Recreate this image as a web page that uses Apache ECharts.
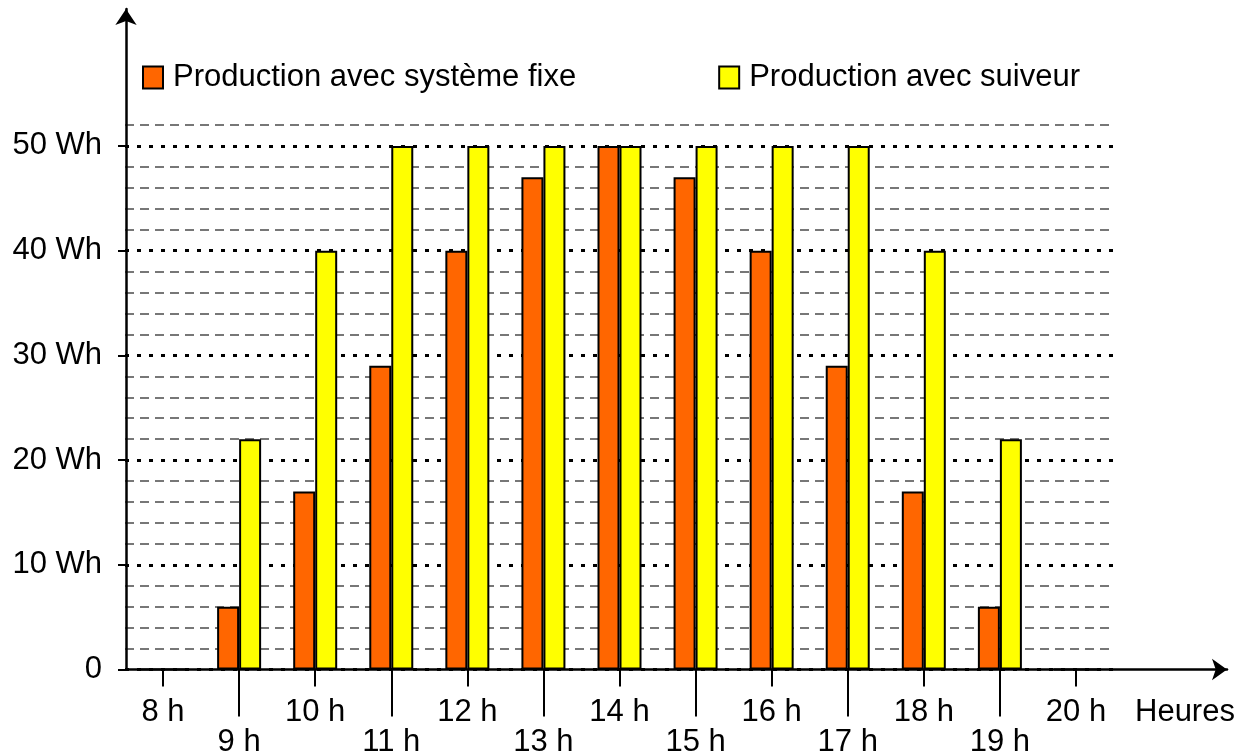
<!DOCTYPE html>
<html>
<head>
<meta charset="utf-8">
<script src="https://cdn.jsdelivr.net/npm/echarts@6/dist/echarts.min.js"></script>
<style>
  html, body { margin: 0; padding: 0; background: #fff; }
  #chart { width: 1248px; height: 756px; }
</style>
</head>
<body>
<div id="chart"></div>
<script>
// heures de la journee
var hours = ['8 h', '9 h', '10 h', '11 h', '12 h', '13 h', '14 h', '15 h', '16 h', '17 h', '18 h', '19 h', '20 h'];
// production en Wh
var prodFixe = [0, 6, 17, 29, 40, 47, 50, 47, 40, 29, 17, 6, 0];
var prodSuiveur = [0, 22, 40, 50, 50, 50, 50, 50, 50, 50, 40, 22, 0];
var majorTicks = [0, 10, 20, 30, 40, 50];
var yMax = 52;

var FONT = "'Liberation Sans', Arial, sans-serif";
var FS = 31;
var chart = echarts.init(document.getElementById('chart'));

var isEven = function (i) { return i % 2 === 0; };
var isOdd = function (i) { return i % 2 === 1; };

var option = {
  animation: false,
  backgroundColor: '#fff',
  textStyle: { fontFamily: FONT },
  legend: {
    left: 142,
    top: 62,
    padding: 0,
    itemWidth: 20,
    itemHeight: 22,
    itemGap: 142,
    icon: 'rect',
    itemStyle: { borderColor: '#000', borderWidth: 2 },
    textStyle: { fontSize: FS, color: '#000', fontFamily: FONT, padding: [0, 0, 0, 5] },
    data: ['Production avec système fixe', 'Production avec suiveur']
  },
  grid: [
    { left: 125, right: 134, top: 125, bottom: 86.5, outerBoundsMode: 'none' },
    { left: 126, right: 21, top: 9, bottom: 86.5, outerBoundsMode: 'none' }
  ],
  xAxis: [
    {
      type: 'category', gridIndex: 0, position: 'bottom', data: hours,
      axisLine: { show: false },
      axisTick: { show: true, alignWithLabel: true, length: 17, interval: isEven,
        lineStyle: { color: '#000', width: 2 } },
      axisLabel: { interval: isEven, margin: 27, fontSize: FS, color: '#000', fontFamily: FONT },
      splitLine: { show: false }
    },
    {
      type: 'category', gridIndex: 0, position: 'bottom', data: hours,
      axisLine: { show: false },
      axisTick: { show: true, alignWithLabel: true, length: 47, interval: isOdd,
        lineStyle: { color: '#000', width: 2 } },
      axisLabel: { interval: isOdd, margin: 57, fontSize: FS, color: '#000', fontFamily: FONT },
      splitLine: { show: false }
    },
    {
      type: 'value', gridIndex: 1, position: 'bottom', min: 0, max: 1,
      name: 'Heures', nameLocation: 'end', nameGap: -92,
      nameTextStyle: { fontSize: FS, color: '#000', fontFamily: FONT, align: 'left',
        verticalAlign: 'top', padding: [27, 0, 0, 0] },
      axisLine: { show: true, symbol: ['none', 'arrow'], symbolSize: [16, 15],
        lineStyle: { color: '#000', width: 2.5 } },
      axisTick: { show: false }, axisLabel: { show: false }, splitLine: { show: false }
    }
  ],
  yAxis: [
    {
      type: 'value', gridIndex: 0, position: 'left', min: 0, max: yMax, interval: 2,
      axisLine: { show: false }, axisTick: { show: false }, axisLabel: { show: false },
      splitLine: { show: true, lineStyle: {
        color: ['rgba(0,0,0,0)', '#777', '#777', '#777', '#777'],
        type: [9, 6], width: 2 } }
    },
    {
      type: 'value', gridIndex: 0, position: 'left', min: 0, max: yMax, interval: 10,
      axisLine: { show: false },
      axisTick: { show: true, length: 7, customValues: majorTicks, lineStyle: { color: '#000', width: 2 } },
      axisLabel: { margin: 23, fontSize: FS, color: '#000', fontFamily: FONT, customValues: majorTicks,
        formatter: function (v) { return v === 0 ? '0' : v + ' Wh'; } },
      splitLine: { show: true, lineStyle: { color: '#000', type: [4, 8], width: 3 } }
    },
    {
      type: 'value', gridIndex: 1, position: 'left', min: 0, max: 1,
      axisLine: { show: true, symbol: ['none', 'arrow'], symbolSize: [16, 16],
        lineStyle: { color: '#000', width: 2.5 } },
      axisTick: { show: false }, axisLabel: { show: false }, splitLine: { show: false }
    }
  ],
  series: [
    {
      name: 'Production avec système fixe', type: 'bar', xAxisIndex: 0, yAxisIndex: 0,
      barWidth: 22, barGap: '0%',
      itemStyle: { color: '#FF6600', borderColor: '#000', borderWidth: 2 },
      data: prodFixe
    },
    {
      name: 'Production avec suiveur', type: 'bar', xAxisIndex: 0, yAxisIndex: 0,
      barWidth: 22, barGap: '0%',
      itemStyle: { color: '#FFFF00', borderColor: '#000', borderWidth: 2 },
      data: prodSuiveur
    }
  ]
};

chart.setOption(option);
</script>
</body>
</html>
